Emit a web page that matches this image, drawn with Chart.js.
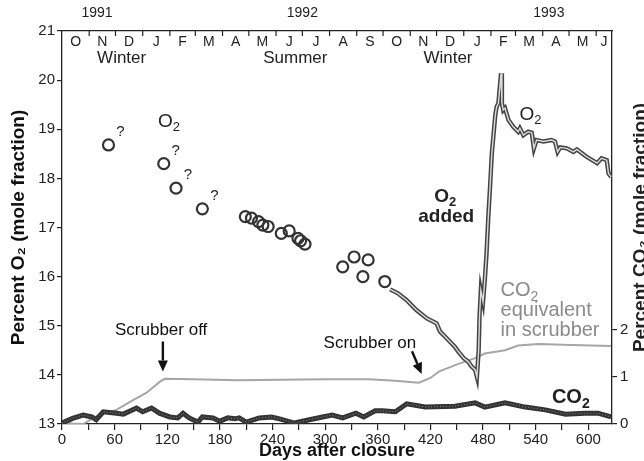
<!DOCTYPE html>
<html>
<head>
<meta charset="utf-8">
<script src="https://cdn.jsdelivr.net/npm/chart.js@4.4.1/dist/chart.umd.min.js"></script>
<style>
  html, body { margin: 0; padding: 0; background: #fff; }
  #wrap { width: 644px; height: 461px; position: relative; }
</style>
</head>
<body>
<div id="wrap"><canvas id="c"></canvas></div>
<script>
// ---- data ----
// manual O2 readings (circles), first four are the doubtful "?" ones
const circleDays = [53, 116, 130, 160, 209, 216, 224, 229, 235, 250, 259, 269, 272, 277, 320, 333, 343, 349, 368];
const circleO2 = [18.68, 18.3, 17.8, 17.38, 17.22, 17.19, 17.12, 17.05, 17.02, 16.88, 16.93, 16.78, 16.73, 16.66, 16.2, 16.4, 16.0, 16.34, 15.9];
const doubtfulCount = 4;

// continuous O2 record
const o2Days = [374, 383, 393, 404, 416, 427, 431, 435, 442, 448, 452, 458, 463, 467, 471, 473,
  475, 476, 477.5, 480, 482, 484, 486, 488, 490, 492, 494, 495.5, 497.5, 500.5, 501.5, 503, 505, 509,
  514.5, 520, 522, 526, 531.5, 535.5, 538, 541, 549, 558, 562, 565, 568, 575.5, 583, 587, 598, 610,
  615, 621, 623, 626];
const o2Values = [15.74, 15.66, 15.52, 15.32, 15.15, 15.05, 14.88, 14.81, 14.68, 14.57, 14.47, 14.34, 14.27, 14.17, 14.1, 13.96,
  14.5, 15.2, 15.72, 15.49, 15.93, 16.48, 17.22, 17.83, 18.51, 18.9, 19.3, 19.46, 19.53, 20.14, 19.53, 19.39, 19.43, 19.19,
  19.05, 18.95, 19.02, 18.88, 18.95, 18.93, 18.61, 18.78, 18.75, 18.78, 18.75, 18.54, 18.63, 18.61, 18.54, 18.59, 18.44, 18.31,
  18.41, 18.37, 18.1, 18.03];

// CO2 in the air
const co2Days = [0, 12, 24, 34, 39, 47, 62, 70, 85, 92, 102, 111, 123, 132, 138, 145, 155, 160, 172, 180, 189, 197, 202,
  210, 225, 239, 248, 265, 282, 297, 308, 320, 335, 344, 357, 365, 380, 393, 414, 448, 471, 482, 505, 528, 551, 574,
  596, 611, 626];
const co2Values = [0.02, 0.12, 0.19, 0.15, 0.09, 0.26, 0.23, 0.21, 0.34, 0.26, 0.34, 0.23, 0.15, 0.13, 0.23, 0.13, 0.04, 0.15,
  0.13, 0.06, 0.13, 0.11, 0.13, 0.04, 0.13, 0.15, 0.11, 0.02, 0.09, 0.15, 0.19, 0.13, 0.23, 0.15, 0.28, 0.28, 0.26, 0.43,
  0.36, 0.38, 0.45, 0.36, 0.45, 0.36, 0.3, 0.21, 0.23, 0.23, 0.15];

// CO2 equivalent held in the scrubber
const scrubDays = [0, 12, 24, 35, 45, 62, 81, 96, 111, 117, 150, 200, 250, 300, 350, 380, 400, 407, 420, 430, 452, 471,
  482, 505, 520, 543, 581, 626];
const scrubValues = [0.04, 0.01, 0.0, 0.12, 0.22, 0.3, 0.51, 0.66, 0.89, 0.96, 0.95, 0.93, 0.94, 0.95, 0.95, 0.92, 0.89,
  0.88, 0.98, 1.12, 1.28, 1.4, 1.5, 1.57, 1.67, 1.7, 1.68, 1.66];

// axes
const xTicks = [0, 30, 60, 90, 120, 150, 180, 210, 240, 270, 300, 330, 360, 390, 420, 450, 480, 510, 540, 570, 600];
const co2Ticks = [0, 1, 2];
const monthTicks = [31, 61, 92, 123, 152, 183, 213, 244, 274, 305, 336, 366, 397, 427, 458, 489, 517, 548, 578, 609];
const monthLetters = ['O', 'N', 'D', 'J', 'F', 'M', 'A', 'M', 'J', 'J', 'A', 'S', 'O', 'N', 'D', 'J', 'F', 'M', 'A', 'M', 'J'];
const yearDays = [40, 274, 555];
const yearLabels = ['1991', '1992', '1993'];
const seasonDays = [68, 266, 440];
const seasonLabels = ['Winter', 'Summer', 'Winter'];

const X_MAX = 627;
const FONT = '"Liberation Sans", Arial, Helvetica, sans-serif';
const INK = '#222';

const pts = (xs, ys) => xs.map((d, i) => ({ x: d, y: ys[i] }));

// O2 / CO2 with a smaller lowered "2"
function chem(ctx, main, sub, x, y, size, weight, color, align) {
  const f = `${weight} ${size}px ${FONT}`;
  const fs = `${weight} ${Math.round(size * 0.68)}px ${FONT}`;
  ctx.font = f;
  const w1 = ctx.measureText(main).width;
  ctx.font = fs;
  const w2 = ctx.measureText(sub).width;
  const x0 = align === 'left' ? x : x - (w1 + w2) / 2;
  ctx.fillStyle = color;
  ctx.textAlign = 'left';
  ctx.textBaseline = 'middle';
  ctx.font = f;
  ctx.fillText(main, x0, y);
  ctx.font = fs;
  ctx.fillText(sub, x0 + w1, y + size * 0.3);
}

function arrow(ctx, x1, y1, x2, y2) {
  const ang = Math.atan2(y2 - y1, x2 - x1);
  const hl = 11, hw = 5;
  const bx = x2 - hl * Math.cos(ang), by = y2 - hl * Math.sin(ang);
  ctx.strokeStyle = '#111';
  ctx.fillStyle = '#111';
  ctx.lineWidth = 2.4;
  ctx.beginPath();
  ctx.moveTo(x1, y1);
  ctx.lineTo(bx, by);
  ctx.stroke();
  ctx.beginPath();
  ctx.moveTo(x2, y2);
  ctx.lineTo(bx + hw * Math.sin(ang), by - hw * Math.cos(ang));
  ctx.lineTo(bx - hw * Math.sin(ang), by + hw * Math.cos(ang));
  ctx.closePath();
  ctx.fill();
}

const decor = {
  id: 'decor',
  afterDraw(chart) {
    const { ctx, chartArea: a, scales: { x, y, y1 } } = chart;
    ctx.save();

    // month ticks point into the plot
    ctx.strokeStyle = INK;
    ctx.lineWidth = 1.2;
    monthTicks.forEach(d => {
      const px = x.getPixelForValue(d);
      ctx.beginPath();
      ctx.moveTo(px, a.top);
      ctx.lineTo(px, a.top + 5);
      ctx.stroke();
    });

    // month letters, centred between ticks
    const edges = [0, ...monthTicks, X_MAX];
    ctx.fillStyle = INK;
    ctx.font = `14px ${FONT}`;
    ctx.textAlign = 'center';
    ctx.textBaseline = 'middle';
    monthLetters.forEach((m, i) => {
      ctx.fillText(m, x.getPixelForValue((edges[i] + edges[i + 1]) / 2), a.top + 11);
    });

    ctx.font = `17px ${FONT}`;
    seasonLabels.forEach((s, i) => ctx.fillText(s, x.getPixelForValue(seasonDays[i]), a.top + 27));

    // question marks beside the doubtful readings
    ctx.font = `15px ${FONT}`;
    for (let i = 0; i < doubtfulCount; i++) {
      ctx.fillText('?', x.getPixelForValue(circleDays[i]) + 12, y.getPixelForValue(circleO2[i]) - 13);
    }

    // series labels
    chem(ctx, 'O', '2', x.getPixelForValue(122), y.getPixelForValue(19.15), 19, 'normal', INK);
    chem(ctx, 'O', '2', x.getPixelForValue(534), y.getPixelForValue(19.3), 19, 'normal', INK);
    chem(ctx, 'O', '2', x.getPixelForValue(437), y.getPixelForValue(17.62), 19, 'bold', INK);
    ctx.font = `bold 19px ${FONT}`;
    ctx.fillStyle = INK;
    ctx.textAlign = 'center';
    ctx.fillText('added', x.getPixelForValue(438), y.getPixelForValue(17.22));
    chem(ctx, 'CO', '2', x.getPixelForValue(580), y1.getPixelForValue(0.56), 20, 'bold', INK);

    const grey = '#8a8a8a';
    const gx = x.getPixelForValue(500);
    chem(ctx, 'CO', '2', gx, y1.getPixelForValue(2.83), 20, 'normal', grey, 'left');
    ctx.font = `20px ${FONT}`;
    ctx.fillStyle = grey;
    ctx.textAlign = 'left';
    ctx.fillText('equivalent', gx, y1.getPixelForValue(2.41));
    ctx.fillText('in scrubber', gx, y1.getPixelForValue(1.99));

    // scrubber annotations
    ctx.font = `17px ${FONT}`;
    ctx.fillStyle = '#111';
    ctx.textAlign = 'center';
    ctx.fillText('Scrubber off', x.getPixelForValue(113), y.getPixelForValue(14.91));
    ctx.fillText('Scrubber on', x.getPixelForValue(351), y.getPixelForValue(14.65));
    arrow(ctx, x.getPixelForValue(115), y.getPixelForValue(14.68), x.getPixelForValue(115), y.getPixelForValue(14.07));
    arrow(ctx, x.getPixelForValue(399), y.getPixelForValue(14.48), x.getPixelForValue(410), y.getPixelForValue(14.02));

    // right axis title, read bottom to top like the left one
    ctx.translate(641, (a.top + a.bottom) / 2);
    ctx.rotate(-Math.PI / 2);
    ctx.font = `bold 19px ${FONT}`;
    ctx.fillStyle = INK;
    ctx.textAlign = 'center';
    ctx.textBaseline = 'middle';
    ctx.fillText('Percent CO\u2082 (mole fraction)', 0, 0);
    ctx.restore();
  }
};

Chart.defaults.font.family = FONT;
Chart.defaults.color = INK;

new Chart(document.getElementById('c'), {
  type: 'line',
  data: {
    datasets: [
      {
        data: pts(circleDays, circleO2), yAxisID: 'y', showLine: false, order: 0,
        pointRadius: 5.5, pointBorderWidth: 2.2, pointBorderColor: '#333',
        pointBackgroundColor: 'rgba(255,255,255,0)'
      },
      {
        data: pts(o2Days, o2Values), yAxisID: 'y', order: 1,
        borderColor: '#dcdcdc', borderWidth: 1.4, pointRadius: 0
      },
      {
        data: pts(o2Days, o2Values), yAxisID: 'y', order: 2,
        borderColor: '#444', borderWidth: 4.4, pointRadius: 0
      },
      {
        data: pts(co2Days, co2Values), yAxisID: 'y1', order: 3,
        borderColor: '#8a8a8a', borderWidth: 1, borderDash: [1, 2], pointRadius: 0
      },
      {
        data: pts(co2Days, co2Values), yAxisID: 'y1', order: 4,
        borderColor: '#333', borderWidth: 5, pointRadius: 0
      },
      {
        data: pts(scrubDays, scrubValues), yAxisID: 'y1', order: 5,
        borderColor: '#a6a6a6', borderWidth: 2, pointRadius: 0
      }
    ]
  },
  options: {
    responsive: true,
    maintainAspectRatio: false,
    animation: false,
    events: [],
    layout: { padding: 0 },
    plugins: { legend: { display: false }, tooltip: { enabled: false } },
    scales: {
      x: {
        type: 'linear', position: 'bottom', min: 0, max: X_MAX,
        afterBuildTicks: s => { s.ticks = xTicks.map(v => ({ value: v })); },
        afterFit: s => { s.height = 37; },
        ticks: {
          autoSkip: false, maxRotation: 0, padding: 1, color: INK, font: { size: 15 },
          callback: v => (v % 60 === 0 ? String(v) : '')
        },
        grid: { drawOnChartArea: false, tickLength: 6, color: INK, lineWidth: 1.2 },
        border: { color: INK, width: 1.3 },
        title: {
          display: true, text: 'Days after closure', color: '#111',
          font: { size: 18, weight: 'bold' }, padding: { top: 0, bottom: -1 }
        }
      },
      xt: {
        type: 'linear', position: 'top', min: 0, max: X_MAX,
        afterBuildTicks: s => { s.ticks = yearDays.map(v => ({ value: v })); },
        afterFit: s => { s.height = 31; },
        ticks: {
          autoSkip: false, maxRotation: 0, padding: 9, color: INK, font: { size: 14 },
          callback: (v, i) => yearLabels[i]
        },
        grid: { display: false, drawTicks: false },
        border: { color: INK, width: 1.3 }
      },
      y: {
        type: 'linear', position: 'left', min: 13, max: 21,
        afterFit: s => { s.width = 62; },
        ticks: { stepSize: 1, padding: 2, color: INK, font: { size: 15 } },
        grid: { drawOnChartArea: false, tickLength: 5, color: INK, lineWidth: 1.2 },
        border: { color: INK, width: 1.3 },
        title: {
          display: true, text: 'Percent O\u2082 (mole fraction)', color: '#111',
          font: { size: 19, weight: 'bold' }, padding: { top: 7, bottom: 0 }
        }
      },
      y1: {
        type: 'linear', position: 'right', min: 0, max: 8.36,
        afterBuildTicks: s => { s.ticks = co2Ticks.map(v => ({ value: v })); },
        afterFit: s => { s.width = 32; },
        ticks: { padding: 3, color: INK, font: { size: 15 } },
        grid: { drawOnChartArea: false, tickLength: 5, color: INK, lineWidth: 1.2 },
        border: { color: INK, width: 1.3 }
      }
    }
  },
  plugins: [decor]
});
</script>
</body>
</html>
